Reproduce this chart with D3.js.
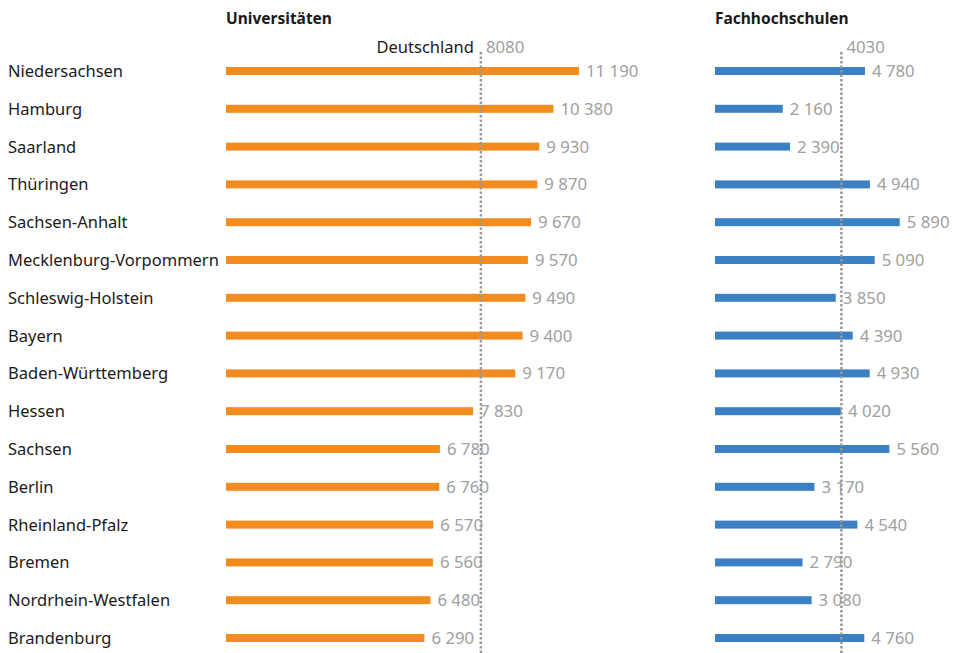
<!DOCTYPE html>
<html>
<head>
<meta charset="utf-8" />
<title>Ausgaben je Studierenden</title>
<script src="https://d3js.org/d3.v7.min.js"></script>
<style>
    body { margin: 0; background: #fff; }
    svg { font-family: "Noto Sans", "Open Sans", sans-serif; }
    .land { font-size: 16.5px; fill: #1a1a1a; }
    .val { font-size: 16.8px; fill: #a0a0a0; }
    .title { font-size: 15.5px; font-weight: bold; fill: #1a1a1a; }
</style>
</head>
<body>
<svg width="955" height="653"></svg>
<script>
var laender = ['Niedersachsen', 'Hamburg', 'Saarland', 'Thüringen', 'Sachsen-Anhalt',
    'Mecklenburg-Vorpommern', 'Schleswig-Holstein', 'Bayern', 'Baden-Württemberg',
    'Hessen', 'Sachsen', 'Berlin', 'Rheinland-Pfalz', 'Bremen', 'Nordrhein-Westfalen', 'Brandenburg'];
var uni = [11190, 10380, 9930, 9870, 9670, 9570, 9490, 9400, 9170, 7830, 6780, 6760, 6570, 6560, 6480, 6290];
var fh = [4780, 2160, 2390, 4940, 5890, 5090, 3850, 4390, 4930, 4020, 5560, 3170, 4540, 2790, 3080, 4760];
var uniDE = 8080;
var fhDE = 4030;

var svg = d3.select('svg');

// Zeilenmitten
var y = d3.scalePoint()
    .domain(laender)
    .range([71, 638]);
var barH = 8;

// gleiche Skala für beide Teile
var xUni = d3.scaleLinear().domain([0, 11190]).range([226, 579]);
var xFh = d3.scaleLinear().domain([0, 11190]).range([715, 1066]);

function fmt(v) {
    var s = String(v);
    return s.length > 3 ? s.slice(0, s.length - 3) + ' ' + s.slice(-3) : s;
}

svg.selectAll('text.land')
    .data(laender)
    .enter()
    .append('text')
    .attr('class', 'land')
    .attr('x', 8)
    .attr('y', function(d) { return y(d) + 6; })
    .text(function(d) { return d; });

function panel(vals, x, color, de, title, deName) {
    var g = svg.append('g');

    g.append('text')
        .attr('class', 'title')
        .attr('x', x(0))
        .attr('y', 24)
        .text(title);

    g.selectAll('rect')
        .data(vals)
        .enter()
        .append('rect')
        .attr('x', x(0))
        .attr('y', function(d, i) { return y(laender[i]) - barH / 2; })
        .attr('width', function(d) { return x(d) - x(0); })
        .attr('height', barH)
        .attr('fill', color);

    g.append('line')
        .attr('x1', x(de)).attr('x2', x(de))
        .attr('y1', 52).attr('y2', 653)
        .attr('stroke', '#999')
        .attr('stroke-width', 2.5)
        .attr('stroke-dasharray', '2.5,2');

    g.selectAll('text.val')
        .data(vals)
        .enter()
        .append('text')
        .attr('class', 'val')
        .attr('x', function(d) { return x(d) + 7; })
        .attr('y', function(d, i) { return y(laender[i]) + 6; })
        .text(fmt);

    g.append('text')
        .attr('class', 'val')
        .attr('x', x(de) + 5)
        .attr('y', 53)
        .text(String(de));

    if (deName) {
        g.append('text')
            .attr('class', 'land')
            .attr('x', x(de) - 7)
            .attr('y', 53)
            .attr('text-anchor', 'end')
            .text(deName);
    }
}

panel(uni, xUni, '#f28c1e', uniDE, 'Universitäten', 'Deutschland');
panel(fh, xFh, '#3b80c3', fhDE, 'Fachhochschulen', null);
</script>
</body>
</html>
